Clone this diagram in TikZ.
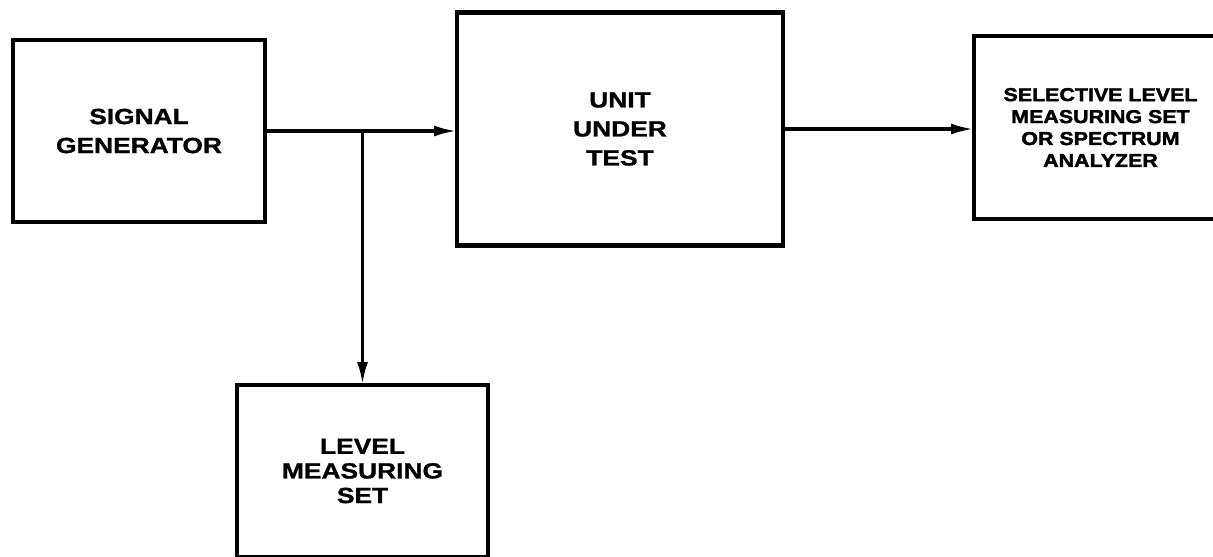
\documentclass[tikz,border=0pt]{standalone}
\usepackage{fontspec}
\newfontfamily\blockfont{Liberation Sans}[FakeStretch=1.2,FakeBold=1.2]
\newfontfamily\heavyfont{Liberation Sans}[FakeStretch=1.15,FakeBold=2]
\usetikzlibrary{arrows.meta}
\tikzset{
  block/.style={draw, line width=2.8pt, align=center, inner sep=0pt, outer sep=0pt,
    font=\blockfont\bfseries\fontsize{12.5}{16.5}\selectfont},
  signal/.style={line width=2pt, -{Latex[length=0.46cm, width=0.22cm]}}
}
\begin{document}
\begin{tikzpicture}[x=0.02cm, y=-0.02cm]
        \useasboundingbox (0,0) rectangle (1213,556);
        \clip (0,0) rectangle (1213,556);
        \node [block, minimum width=5.04cm, minimum height=3.64cm] (gen) at (139,131) {SIGNAL\\GENERATOR};
        \node [block, minimum width=6.52cm, minimum height=4.66cm] (uut) at (620,129) {UNIT\\UNDER\\TEST};
        \node [block, minimum width=5.06cm, minimum height=3.66cm,
          font=\heavyfont\bfseries\fontsize{10.6}{12.5}\selectfont] (sel) at (1100.5,127.5)
          {SELECTIVE LEVEL\\MEASURING SET\\OR SPECTRUM\\ANALYZER};
        \node [block, minimum width=5.02cm, minimum height=3.44cm,
          font=\blockfont\bfseries\fontsize{12.5}{14}\selectfont] (lms) at (362.5,471)
          {LEVEL\\MEASURING\\SET};
        \coordinate (split) at (lms.north |- gen.east);
        \draw [signal] (gen.east) -- (gen.east -| uut.west);
        \draw [signal] (split) -- (lms.north);
        \draw [signal] (uut.east) -- (uut.east -| sel.west);
    \end{tikzpicture}
\end{document}
